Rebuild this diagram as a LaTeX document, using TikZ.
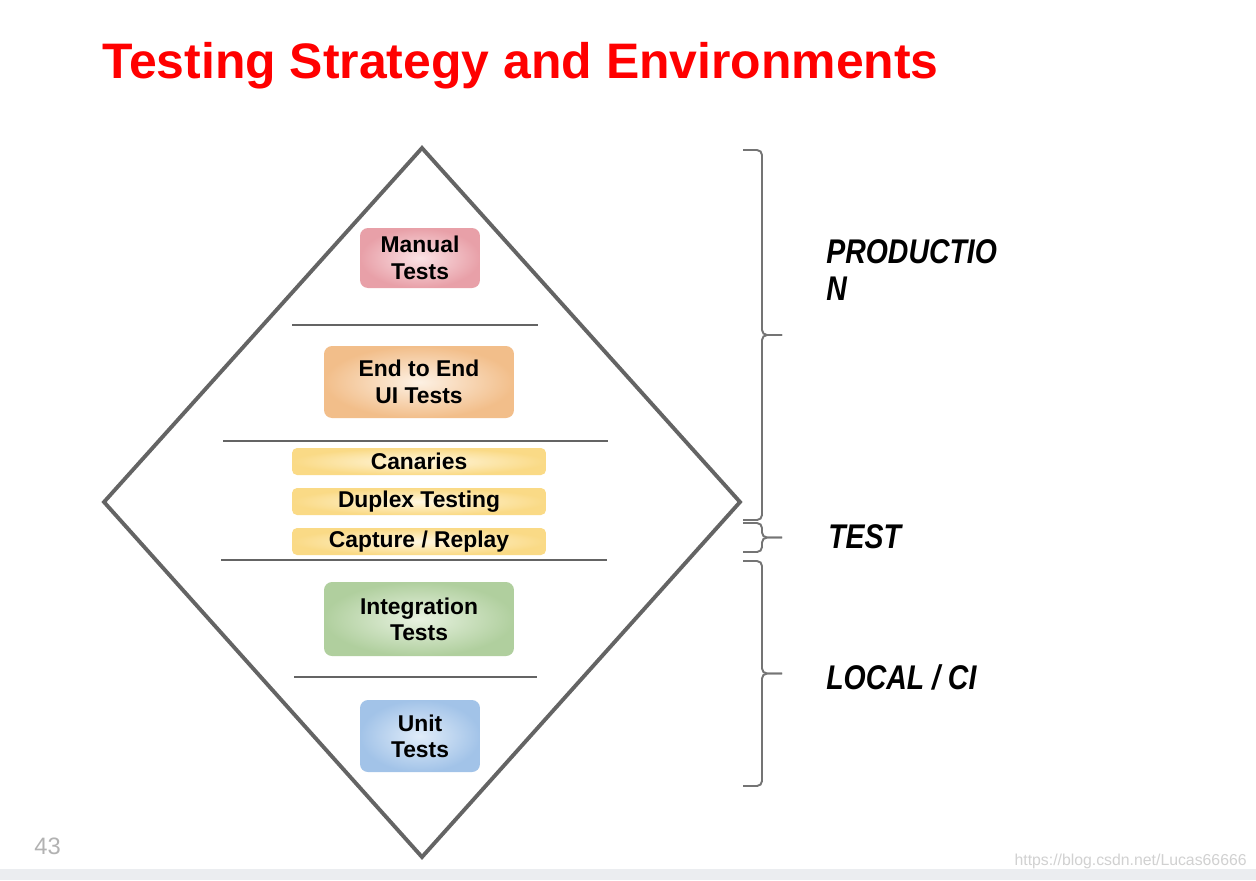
\documentclass[tikz,border=0pt]{standalone}
\usepackage{fontspec}
\setmainfont{Liberation Sans}
\newfontfamily\zonefont[FakeStretch=0.83]{Liberation Sans}
\usepackage{xcolor}
\usetikzlibrary{positioning}

\definecolor{framegray}{HTML}{646464}
\definecolor{bandgray}{HTML}{EBEDF0}
\definecolor{manualin}{RGB}{251,226,229}
\definecolor{manualout}{RGB}{232,160,168}
\definecolor{uiin}{RGB}{253,241,228}
\definecolor{uiout}{RGB}{242,190,138}
\definecolor{prodin}{RGB}{255,247,224}
\definecolor{prodout}{RGB}{250,218,134}
\definecolor{integin}{RGB}{232,242,225}
\definecolor{integout}{RGB}{176,207,158}
\definecolor{unitin}{RGB}{224,236,249}
\definecolor{unitout}{RGB}{162,195,232}

\begin{document}
\begin{tikzpicture}[
  x=0.02cm, y=-0.02cm,
  testbox/.style={rounded corners=0.16cm, inner sep=0pt, align=center,
    font=\bfseries\fontsize{13}{15}\selectfont},
  manualbox/.style={testbox, minimum width=2.4cm, inner color=manualin, outer color=manualout},
  uibox/.style={testbox, minimum width=3.8cm, inner color=uiin, outer color=uiout},
  prodbox/.style={testbox, rounded corners=0.1cm, minimum width=5.08cm, minimum height=0.54cm,
    inner color=prodin, outer color=prodout},
  integbox/.style={testbox, minimum width=3.8cm, inner color=integin, outer color=integout},
  unitbox/.style={testbox, minimum width=2.4cm, inner color=unitin, outer color=unitout},
  frameline/.style={draw=framegray, line width=2.2pt, line join=miter},
  levelline/.style={draw=framegray, line width=1.1pt},
  zonebrace/.style={draw=framegray!90, line width=1.1pt, rounded corners=0.1cm},
  zonelabel/.style={font=\zonefont\fontsize{19.5}{21}\selectfont\bfseries\itshape, align=left, inner sep=0pt}
]
\fill[white] (0,0) rectangle (1256,880);
\useasboundingbox (0,0) rectangle (1256,880);
\fill[bandgray] (0,869) rectangle (1256,880);

% title
\node[anchor=base west, inner sep=0pt, text=red, font=\bfseries\fontsize{28.4}{34}\selectfont] (title) at (102,78) {Testing Strategy and Environments};

% diamond and levels
\coordinate (top) at (422,148);
\coordinate (right) at (740,502);
\coordinate (bottom) at (422,857);
\coordinate (left) at (104,502);
\draw[frameline] (top) -- (right) -- (bottom) -- (left) -- cycle;
\draw[levelline] (292,325) -- (538,325);
\draw[levelline] (223,441) -- (608,441);
\draw[levelline] (221,560) -- (607,560);
\draw[levelline] (294,677) -- (537,677);

% test kinds
\node[manualbox, minimum height=1.2cm] (manual) at (420,258) {Manual\\Tests};
\node[uibox, minimum height=1.44cm] (ui) at (419,382) {End to End\\UI Tests};
\node[prodbox] (canaries) at (419,461.5) {Canaries};
\node[prodbox] (duplex) at (419,501.5) {Duplex Testing};
\node[prodbox] (capture) at (419,541.5) {Capture / Replay};
\node[integbox, minimum height=1.48cm] (integ) at (419,619) {Integration\\Tests};
\node[unitbox, minimum height=1.44cm] (unit) at (420,736) {Unit\\Tests};

% environments
\foreach \ztop/\zbot in {150/520, 523/552, 561/786} {
  \pgfmathsetmacro{\zmid}{(\ztop+\zbot)/2}
  \draw[zonebrace] (743,\ztop) -- (762,\ztop) -- (762,\zmid) -- (782,\zmid);
  \draw[zonebrace] (743,\zbot) -- (762,\zbot) -- (762,\zmid) -- (782,\zmid);
}
\node[zonelabel, anchor=base west] (production) at (826,300) {PRODUCTIO\\N};
\node[zonelabel, anchor=base west] (test) at (828,548) {TEST};
\node[zonelabel, anchor=base west] (local) at (826,689) {LOCAL / CI};

% footer
\node[anchor=base west, inner sep=0pt, text=black!30, font=\fontsize{13.5}{16}\selectfont] (page) at (34,854) {43};
\node[anchor=base east, inner sep=0pt, text=black!18, font=\fontsize{9}{11}\selectfont] (source) at (1247,865) {https://blog.csdn.net/Lucas66666};
\end{tikzpicture}
\end{document}
